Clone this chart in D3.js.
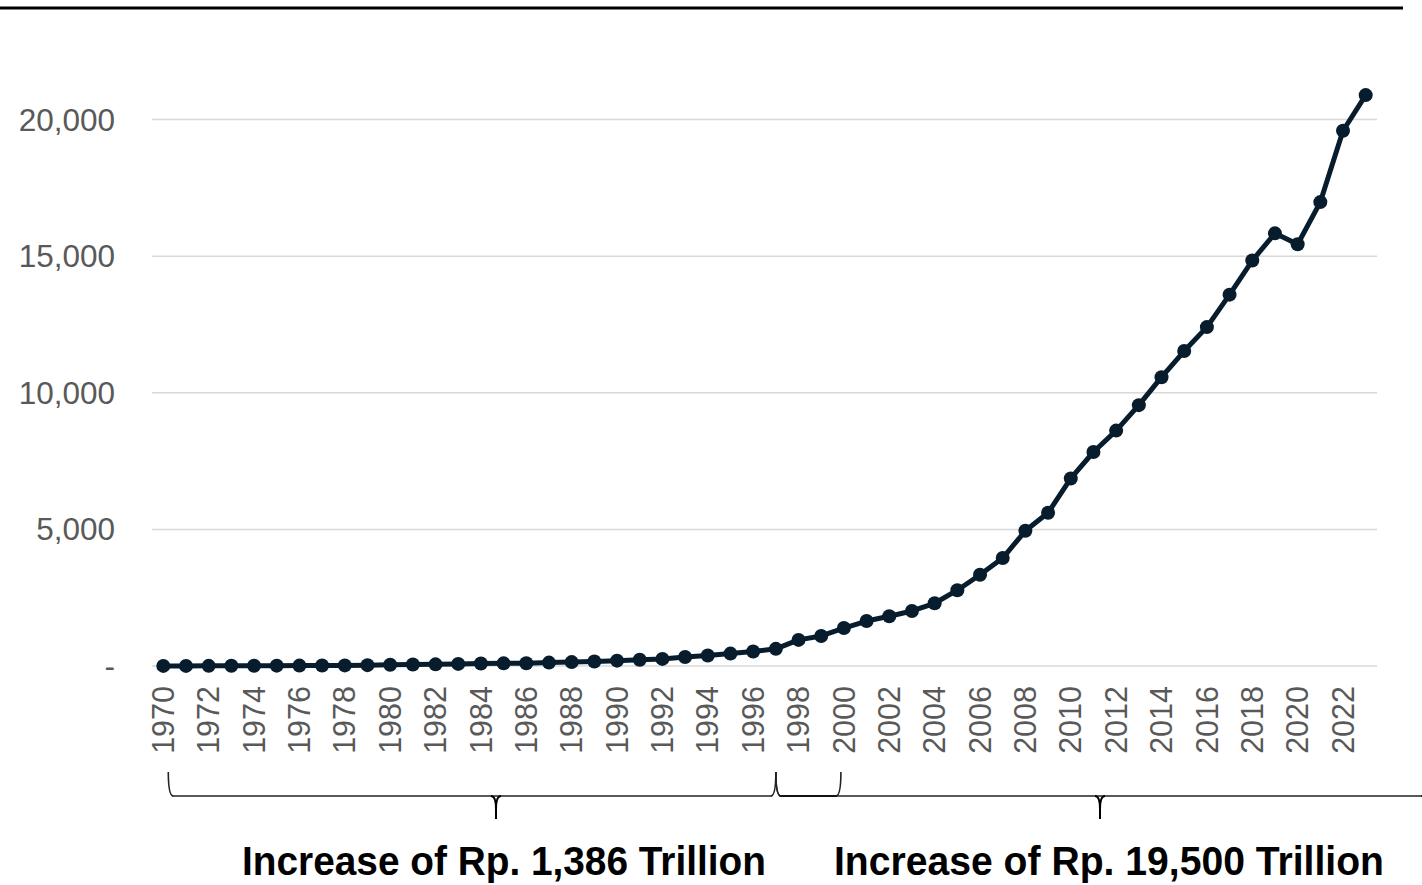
<!DOCTYPE html>
<html lang="en">
<head>
  <meta charset="UTF-8" />
  <title>Indonesia GDP</title>
  <script src="https://cdn.jsdelivr.net/npm/d3@7"></script>
  <style>
    body { margin: 0; background: #fff; }
    .tick-label { font-family: "Liberation Sans", Arial, sans-serif; fill: #595959; }
    .note { font-family: "Liberation Sans Narrow", "Liberation Sans", sans-serif; font-weight: bold; fill: #000; }
  </style>
</head>
<body>
  <svg id="chart" width="1422" height="885"></svg>

  <script>
    const years = d3.range(1970, 2024);
    // nominal GDP, Rp trillion
    const gdp = [
      3.3, 3.7, 4.6, 6.8, 10.7, 12.6, 15.5, 19.0, 22.7, 32.0,
      45.4, 54.0, 59.6, 77.6, 89.9, 97.0, 102.7, 124.8, 142.1, 167.2,
      195.6, 227.5, 259.9, 329.8, 382.2, 454.5, 532.6, 627.7, 955.8, 1099.7,
      1389.8, 1646.3, 1821.8, 2013.7, 2295.8, 2774.3, 3339.2, 3950.9, 4948.7, 5606.2,
      6864.1, 7831.7, 8615.7, 9546.1, 10569.7, 11526.3, 12401.7, 13589.8, 14838.3, 15833.9,
      15434.2, 16976.8, 19588.4, 20892.4
    ];
    const yTicks = [0, 5000, 10000, 15000, 20000];
    const xTickYears = years.filter(y => y % 2 === 0);
    const notes = ["Increase of Rp. 1,386 Trillion", "Increase of Rp. 19,500 Trillion"];

    const svg = d3.select("#chart");

    const x = d3.scalePoint().domain(years).range([163.3, 1365.7]);
    const step = x.step();
    const y = d3.scaleLinear().domain([0, 20000]).range([666, 119.5]);

    // top rule
    svg.append("line")
      .attr("x1", 0).attr("x2", 1403)
      .attr("y1", 8).attr("y2", 8)
      .attr("stroke", "#000")
      .attr("stroke-width", 3);

    // gridlines
    svg.selectAll("line.grid")
      .data(yTicks)
      .enter()
      .append("line")
      .attr("class", "grid")
      .attr("x1", x(1970) - step / 2)
      .attr("x2", x(2023) + step / 2)
      .attr("y1", d => y(d))
      .attr("y2", d => y(d))
      .attr("stroke", "#d9d9d9")
      .attr("stroke-width", 1.5);

    // y labels
    svg.selectAll("text.ylab")
      .data(yTicks)
      .enter()
      .append("text")
      .attr("class", "tick-label")
      .attr("x", 115)
      .attr("y", d => y(d))
      .attr("dy", "0.35em")
      .attr("text-anchor", "end")
      .style("font-size", "31.5px")
      .text(d => d === 0 ? "-" : d3.format(",")(d));

    // x labels
    svg.selectAll("text.xlab")
      .data(xTickYears)
      .enter()
      .append("text")
      .attr("class", "tick-label")
      .attr("transform", d => `translate(${x(d)},686) rotate(-90)`)
      .attr("dy", "0.35em")
      .attr("text-anchor", "end")
      .style("font-size", "30.5px")
      .text(d => d);

    // line + markers
    const pts = years.map((yr, i) => [yr, gdp[i]]);
    const line = d3.line().x(d => x(d[0])).y(d => y(d[1]));

    svg.append("path")
      .datum(pts)
      .attr("d", line)
      .attr("fill", "none")
      .attr("stroke", "#071c2c")
      .attr("stroke-width", 5)
      .attr("stroke-linejoin", "round");

    svg.selectAll("circle.pt")
      .data(pts)
      .enter()
      .append("circle")
      .attr("class", "pt")
      .attr("cx", d => x(d[0]))
      .attr("cy", d => y(d[1]))
      .attr("r", 7)
      .attr("fill", "#071c2c");

    // braces
    const braceY = 796, tipTop = 772, tipBot = 819;
    function brace(x0, x1, xm, dark) {
      const g = svg.append("g").attr("fill", "none").attr("stroke-linecap", "butt");
      g.append("line")
        .attr("x1", x0 + 4).attr("x2", x1 - 4)
        .attr("y1", braceY).attr("y2", braceY)
        .attr("stroke", dark ? "#111" : "#595959").attr("stroke-width", 2);
      // end hooks
      g.append("path")
        .attr("d", `M${x0},${tipTop} Q${x0},${braceY} ${x0 + 5},${braceY}`)
        .attr("stroke", "#222").attr("stroke-width", 1.6);
      g.append("path")
        .attr("d", `M${x1},${tipTop} Q${x1},${braceY} ${x1 - 5},${braceY}`)
        .attr("stroke", "#222").attr("stroke-width", 1.6);
      if (xm != null) {
        g.append("path")
          .attr("d", `M${xm - 5},${braceY} Q${xm},${braceY} ${xm},${tipBot - 10} L${xm},${tipBot}`)
          .attr("stroke", "#000").attr("stroke-width", 2);
        g.append("path")
          .attr("d", `M${xm + 5},${braceY} Q${xm},${braceY} ${xm},${tipBot - 10}`)
          .attr("stroke", "#000").attr("stroke-width", 2);
      }
    }
    brace(x(1970) + 5, x(1997), 496, false);
    brace(x(1997), 1426, 1100, false);
    brace(x(1997), x(2000) - 3, null, true);

    // notes
    svg.append("text")
      .attr("class", "note")
      .attr("x", 242).attr("y", 875)
      .attr("textLength", 524)
      .attr("lengthAdjust", "spacingAndGlyphs")
      .style("font-size", "40px")
      .text(notes[0]);

    svg.append("text")
      .attr("class", "note")
      .attr("x", 834).attr("y", 875)
      .attr("textLength", 550)
      .attr("lengthAdjust", "spacingAndGlyphs")
      .style("font-size", "40px")
      .text(notes[1]);
  </script>
</body>
</html>
